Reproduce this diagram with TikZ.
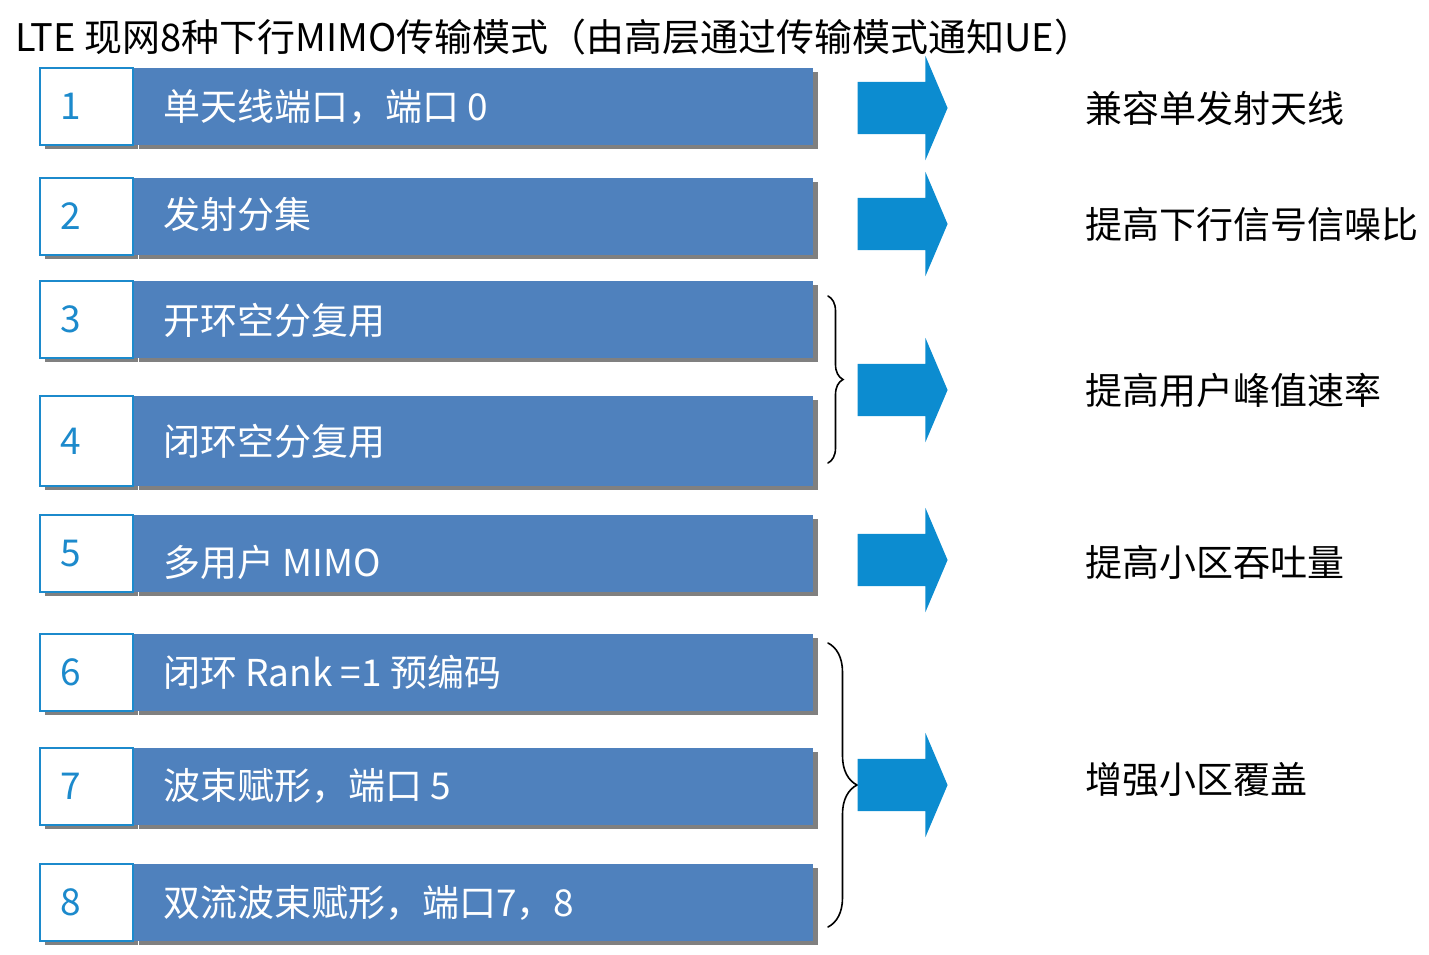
\documentclass[tikz,border=0pt]{standalone}
\usepackage{fontspec}
\setmainfont{Noto Sans CJK SC}
\usetikzlibrary{positioning, shapes.arrows, shadows, decorations.pathreplacing}

\definecolor{barblue}{RGB}{79,129,189}
\definecolor{numblue}{RGB}{28,138,204}
\definecolor{arrowblue}{RGB}{12,140,208}
\definecolor{shadowgray}{RGB}{128,128,128}

\begin{document}
\begin{tikzpicture}[x=1pt, y=-1pt,
  num/.style={draw=numblue, line width=2pt, fill=white, text=numblue,
              minimum height=77pt, text width=53pt, inner xsep=20pt, inner ysep=0pt,
              align=left, font=\fontsize{37}{40}\selectfont,
              general shadow={fill=shadowgray, shadow xshift=5pt, shadow yshift=-4pt}},
  bar/.style={fill=barblue, minimum width=679pt, minimum height=77pt, inner sep=0pt,
              general shadow={fill=shadowgray, shadow xshift=5pt, shadow yshift=-4pt}},
  bartext/.style={anchor=west, inner sep=0pt, text=white, font=\fontsize{37}{40}\selectfont},
  goal/.style={anchor=west, inner sep=0pt, font=\fontsize{37}{40}\selectfont},
  bigarrow/.style={single arrow, fill=arrowblue, inner xsep=0pt, inner ysep=26pt,
                   minimum height=90pt, minimum width=104pt,
                   single arrow head extend=26pt, single arrow tip angle=134},
  groupbrace/.style={decorate, line width=1.6pt, line cap=round}
]
  \useasboundingbox (0,0) rectangle (1429,954);

  % title
  \node[anchor=west, inner sep=0pt, font=\fontsize{38}{40}\selectfont] (title) at (15,37)
    {LTE 现网8种下行MIMO传输模式（由高层通过传输模式通知UE）};

  % 8 transmission modes
  \node[num] (n1) at (86.5,106.5) {1};
  \node[bar, right=0pt of n1] (b1) {};
  \node[num] (n2) at (86.5,216.5) {2};
  \node[bar, right=0pt of n2] (b2) {};
  \node[num] (n3) at (86.5,319) {3};
  \node[bar, right=0pt of n3] (b3) {};
  \node[num, minimum height=90pt] (n4) at (86.5,441) {4};
  \node[bar, minimum height=90pt, right=0pt of n4] (b4) {};
  \node[num] (n5) at (86.5,553.5) {5};
  \node[bar, right=0pt of n5] (b5) {};
  \node[num] (n6) at (86.5,672.5) {6};
  \node[bar, right=0pt of n6] (b6) {};
  \node[num] (n7) at (86.5,786.5) {7};
  \node[bar, right=0pt of n7] (b7) {};
  \node[num] (n8) at (86.5,902.5) {8};
  \node[bar, right=0pt of n8] (b8) {};

  \node[bartext] (t1) at (163,107) {单天线端口，端口 0};
  \node[bartext] (t2) at (163,214) {发射分集};
  \node[bartext] (t3) at (163,320) {开环空分复用};
  \node[bartext] (t4) at (163,441) {闭环空分复用};
  \node[bartext] (t5) at (163,562) {多用户 MIMO};
  \node[bartext] (t6) at (163,672) {闭环 Rank =1 预编码};
  \node[bartext] (t7) at (163,786) {波束赋形，端口 5};
  \node[bartext] (t8) at (163,903) {双流波束赋形，端口7，8};

  % braces for grouped modes
  \coordinate (g1top) at (828,296);
  \coordinate (g1bot) at (828,463);
  \coordinate (g2top) at (828,643);
  \coordinate (g2bot) at (828,927);
  \draw[groupbrace, decoration={brace, amplitude=15pt}] (g1top) -- (g1bot);
  \draw[groupbrace, decoration={brace, amplitude=29pt}] (g2top) -- (g2bot);

  % arrows
  \node[bigarrow] (a1) at (897,108) {};
  \node[bigarrow] (a2) at (897,224) {};
  \node[bigarrow] (a3) at (897,390) {};
  \node[bigarrow] (a4) at (897,560) {};
  \node[bigarrow] (a5) at (897,785) {};

  % goals
  \node[goal] (r1) at (1085,108) {兼容单发射天线};
  \node[goal] (r2) at (1085,224) {提高下行信号信噪比};
  \node[goal] (r3) at (1085,390) {提高用户峰值速率};
  \node[goal] (r4) at (1085,562) {提高小区吞吐量};
  \node[goal] (r5) at (1085,780) {增强小区覆盖};
\end{tikzpicture}
\end{document}
